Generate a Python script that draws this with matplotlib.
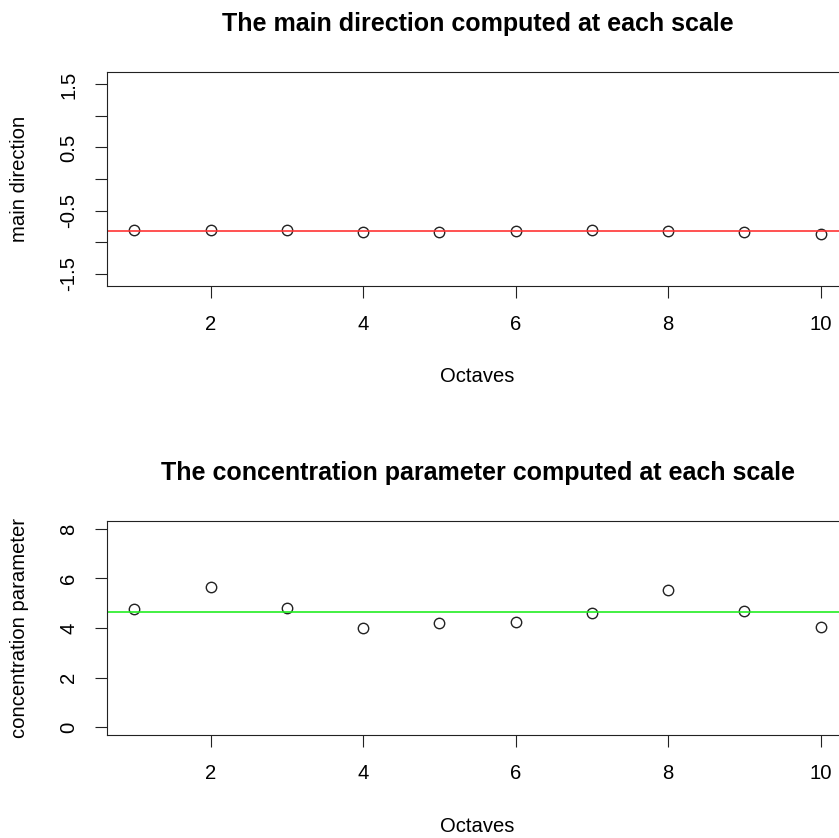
import matplotlib
matplotlib.use("Agg")
import matplotlib.pyplot as plt
import numpy as np

plt.rcParams['font.family'] = ['Liberation Sans', 'DejaVu Sans']

# octave index
octaves = [1, 2, 3, 4, 5, 6, 7, 8, 9, 10]

# main direction at each scale, and its reference line
main_dir = [-0.815, -0.804, -0.815, -0.842, -0.842, -0.831, -0.815, -0.826, -0.842, -0.879]
main_dir_line = -0.826

# concentration parameter at each scale, and its reference line
conc = [4.77, 5.67, 4.82, 4.01, 4.19, 4.26, 4.60, 5.54, 4.70, 4.05]
conc_line = 4.66

x_ticks = [2, 4, 6, 8, 10]
top_yticks = [-1.5, -1.0, -0.5, 0.0, 0.5, 1.0, 1.5]
top_ytick_labels = ['-1.5', '', '-0.5', '', '0.5', '', '1.5']
bot_yticks = [0, 2, 4, 6, 8]
bot_ytick_labels = ['0', '2', '4', '6', '8']

W, H = 839, 838
fig = plt.figure(figsize=(W / 100, H / 100), dpi=100)

# axes boxes in pixels: left, top, right, bottom (right edge runs past the figure)
box_left, box_right = 107, 848
ax_top = fig.add_axes([box_left / W, 1 - 286 / H, (box_right - box_left) / W, 214 / H])
ax_bot = fig.add_axes([box_left / W, 1 - 735 / H, (box_right - box_left) / W, 214 / H])

panels = [
    (ax_top, main_dir, main_dir_line, '#ff3333', (-np.pi / 2, np.pi / 2), top_yticks, top_ytick_labels,
     'main direction', 'The main direction computed at each scale'),
    (ax_bot, conc, conc_line, '#22ee22', (0, 8), bot_yticks, bot_ytick_labels,
     'concentration parameter', 'The concentration parameter computed at each scale'),
]

fs = 14.6
for ax, vals, hline, hcol, ylim, yt, ytl, ylab, title in panels:
    ax.plot(octaves, vals, linestyle='none', marker='o', markersize=7.5,
            markerfacecolor='none', markeredgecolor='#222222', markeredgewidth=1.0)
    ax.axhline(hline, color=hcol, linewidth=1.2)

    span = 10 - 1
    ax.set_xlim(1 - 0.04 * span, 10 + 0.04 * span)
    yr = ylim[1] - ylim[0]
    ax.set_ylim(ylim[0] - 0.04 * yr, ylim[1] + 0.04 * yr)

    ax.set_xticks(x_ticks)
    ax.set_xticklabels([str(t) for t in x_ticks], fontsize=fs)
    ax.set_yticks(yt)
    ax.set_yticklabels(ytl, fontsize=fs, rotation=90, va='center')
    ax.tick_params(length=8.6, width=0.8, pad=12, color='#222222')

    for s in ax.spines.values():
        s.set_linewidth(0.8)
        s.set_color('#222222')

    ax.set_xlabel('Octaves', fontsize=fs)
    ax.xaxis.label.set_verticalalignment('center')
    ax.xaxis.set_label_coords(0.5, -91 / 214)
    ax.set_ylabel(ylab, fontsize=fs)
    ax.yaxis.label.set_verticalalignment('center')
    ax.yaxis.set_label_coords(-87 / (box_right - box_left), 0.5)

    ax.set_title(title, fontsize=18, fontweight='bold', y=1 + 48 / 214, va='center', pad=0)

fig.savefig('out.png', dpi=100)
